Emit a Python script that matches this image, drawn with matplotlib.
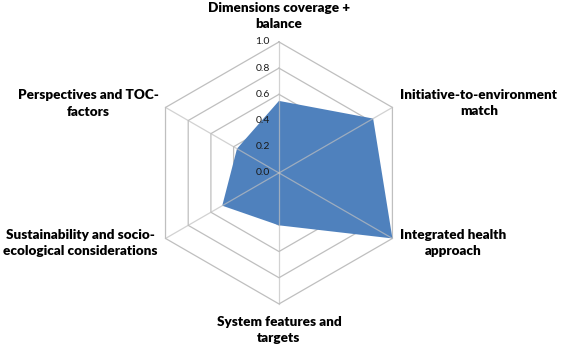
import numpy as np
import matplotlib
matplotlib.use("Agg")
import matplotlib.pyplot as plt

# Data
categories = ["Dimensions coverage +\nbalance",
              "Initiative-to-environment\nmatch",
              "Integrated health\napproach",
              "System features and\ntargets",
              "Sustainability and socio-\necological considerations",
              "Perspectives and TOC-\nfactors"]
values = [0.55, 0.83, 1.0, 0.40, 0.50, 0.37]
ring_levels = [0.2, 0.4, 0.6, 0.8, 1.0]
tick_levels = [0.0, 0.2, 0.4, 0.6, 0.8, 1.0]

plt.rcParams['font.family'] = ['Lato', 'DejaVu Sans']

n = len(categories)
angles = np.arange(n) * 2 * np.pi / n
closed_angles = np.append(angles, angles[0])
closed_values = np.append(values, values[0])

fig = plt.figure(figsize=(5.62, 3.48), dpi=100)
ax = fig.add_axes([0.4964 - 0.2331, 0.503 - 0.3764, 0.4662, 0.7529], projection='polar')
ax.set_theta_zero_location('N')
ax.set_theta_direction(-1)
ax.set_ylim(0, 1)
ax.grid(False)
ax.spines['polar'].set_visible(False)
ax.set_xticks([])
ax.set_yticks([])
ax.patch.set_alpha(0)

grid_col = '#BFBFBF'
# hexagonal rings (below the fill)
for r in ring_levels:
    ax.plot(closed_angles, [r] * (n + 1), color=grid_col, lw=0.9, zorder=1, clip_on=False)

# filled series
ax.fill(closed_angles, closed_values, color='#4F81BD', zorder=2, lw=0, clip_on=False)

# spokes on top of the fill
for a in angles:
    ax.plot([a, a], [0, 1], color=grid_col, lw=0.9, zorder=3, alpha=0.7, clip_on=False)

# radial value labels
for t in tick_levels:
    ax.annotate(f"{t:.1f}", xy=(0, t), xytext=(-6.5, 0), textcoords='offset points',
                ha='right', va='center', fontsize=7.5, color='#1a1a1a', zorder=4)

# category labels
label_pos = [(0, 1.2, 'center'), (np.deg2rad(60), 1.07, 'left'), (np.deg2rad(120), 1.07, 'left'),
             (np.pi, 1.2, 'center'), (np.deg2rad(240), 1.07, 'right'), (np.deg2rad(300), 1.06, 'right')]
for lab, (th, r, ha) in zip(categories, label_pos):
    ax.text(th, r, lab, ha=ha, va='center', multialignment='center', fontsize=9.7,
            fontweight='heavy', color='black', linespacing=1.42)

fig.savefig("out.png", dpi=100)
